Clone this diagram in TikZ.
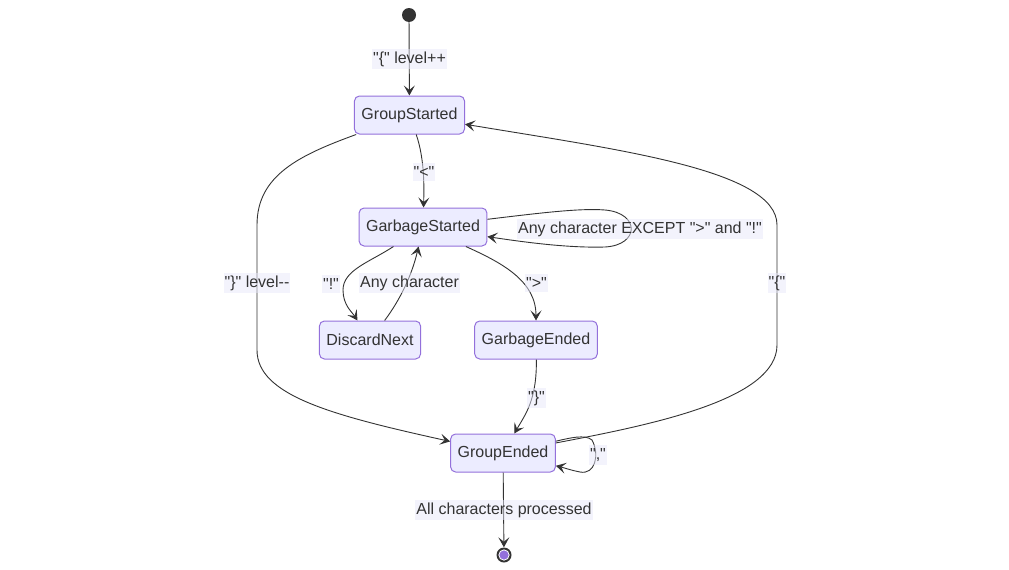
\documentclass[tikz,border=0pt]{standalone}
\usepackage{fontspec}
\setmainfont{Liberation Sans}[Ligatures=TeXOff]
\usetikzlibrary{arrows.meta}
\definecolor{stfill}{HTML}{ECECFF}
\definecolor{stline}{HTML}{9370DB}
\definecolor{ink}{HTML}{333333}
\definecolor{lblbg}{HTML}{E8E8FA}
\begin{document}
\begin{tikzpicture}[
		x=1pt, y=-1pt,
		every node/.style={font=\fontsize{16}{19}\selectfont, text=ink},
		stbox/.style={rectangle, rounded corners=5pt, draw=stline, fill=stfill, line width=1pt, inner xsep=7pt, minimum height=38pt},
		lbl/.style={fill=lblbg, fill opacity=0.5, text opacity=1, inner xsep=1pt, inner ysep=3pt},
		edge/.style={draw=ink, line width=0.9pt, -{Stealth[length=10pt, width=11pt, inset=4.5pt]}}
		]
		\useasboundingbox (0,0) rectangle (1009,570);
		\node (start) [circle, fill=ink, minimum size=14pt, inner sep=0pt] at (409,15) {};
		\node (gs) [stbox] at (409.5,115) {GroupStarted};
		\node (gbs) [stbox] at (423,227) {GarbageStarted};
		\node (dn) [stbox] at (370,340) {DiscardNext};
		\node (gbe) [stbox] at (536,340) {GarbageEnded};
		\node (ge) [stbox] at (503,453) {GroupEnded};
		\node (stop) [circle, fill=ink, minimum size=15pt, inner sep=0pt,
			path picture={\fill[white] (path picture bounding box.center) circle (5.6pt);
				\fill[stline] (path picture bounding box.center) circle (4.6pt);}] at (504,555) {};
		
		\draw[edge] (start) -- (gs);
		\draw[edge] (gs) .. controls (425,160) and (424,190) .. (gbs);
		\draw[edge] (gs) .. controls (300,155) and (257,175) .. (257,225) -- (257,350) .. controls (257,395) and (330,415) .. (ge);
		\draw[edge] (ge) .. controls (650,425) and (777,400) .. (777,345) -- (777,225) .. controls (777,170) and (620,150) .. (gs);
		\draw[edge] (gbs) .. controls (540,213) and (580,208) .. (605,210) .. controls (640,213) and (640,245) .. (605,247) .. controls (570,248) and (530,243) .. (gbs);
		\draw[edge] (gbs) .. controls (370,262) and (343,270) .. (343,290) .. controls (343,305) and (352,312) .. (dn);
		\draw[edge] (dn) .. controls (400,300) and (412,275) .. (gbs);
		\draw[edge] (gbs) .. controls (500,262) and (536,280) .. (gbe);
		\draw[edge] (gbe) .. controls (537,400) and (525,415) .. (ge);
		\draw[edge] (ge) .. controls (570,438) and (585,434) .. (592,440) .. controls (600,455) and (595,475) .. (580,472) .. controls (570,470) and (565,468) .. (ge);
		\draw[edge] (ge) -- (stop);
		
		\node (l1) [lbl] at (409.5,59) {"\{" level++};
		\node (l2) [lbl] at (424,172) {"<"};
		\node (l3) [lbl] at (257,283) {"\}" level-{}-};
		\node (l4) [lbl] at (777,283) {"\{"};
		\node (l5) [lbl] at (640,229) {Any character EXCEPT ">" and "!"};
		\node (l6) [lbl] at (331,284) {"!"};
		\node (l7) [lbl] at (409.5,283) {Any character};
		\node (l8) [lbl] at (536.5,283) {">"};
		\node (l9) [lbl] at (536.5,398) {"\}"};
		\node (l10) [lbl] at (598,455) {","};
		\node (l11) [lbl] at (504,510) {All characters processed};
	\end{tikzpicture}
\end{document}
